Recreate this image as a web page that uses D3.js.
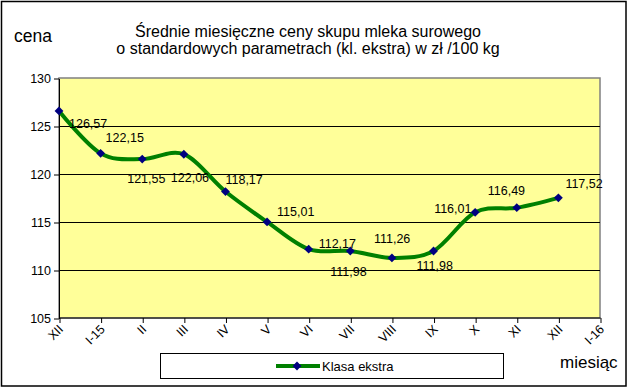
<!DOCTYPE html>
<html>
<head>
<meta charset="utf-8">
<script src="https://cdn.jsdelivr.net/npm/d3@7"></script>
<style>
  body { margin: 0; background: #fff; }
  text { font-family: Arial, "Liberation Sans", sans-serif; }
</style>
</head>
<body>
<div id="chart"></div>
<script>
// months on the x axis, last one has no value
var months = ["XII", "I-15", "II", "III", "IV", "V", "VI", "VII", "VIII", "IX", "X", "XI", "XII", "I-16"];
var prices = [126.57, 122.15, 121.55, 122.06, 118.17, 115.01, 112.17, 111.98, 111.26, 111.98, 116.01, 116.49, 117.52];
var yTicks = [105, 110, 115, 120, 125, 130];
var seriesName = "Klasa ekstra";

// label offsets relative to the point (Excel placed them by hand)
var labelOffsets = [
  [10, 17], [5, -11], [-15, 24], [-13, 28], [0, -8], [10, -6],
  [10, -1], [-20, 25], [-18, -15], [-17, 19], [-41, 1], [-29, -13], [7, -10]
];

var W = 628, H = 388;
var plot = { left: 59, right: 600, top: 78, bottom: 318 };

var svg = d3.select("#chart").append("svg")
  .attr("width", W).attr("height", H);

svg.append("rect")
  .attr("x", 1.5).attr("y", 1.5)
  .attr("width", W - 3.5).attr("height", H - 3.5)
  .attr("fill", "#fff").attr("stroke", "#000").attr("stroke-width", 1.5);

var x = d3.scalePoint().domain(d3.range(months.length))
  .range([plot.left, plot.right]);
var y = d3.scaleLinear().domain([105, 130]).range([plot.bottom, plot.top]);

// plot background
svg.append("rect")
  .attr("x", plot.left).attr("y", plot.top)
  .attr("width", plot.right - plot.left).attr("height", plot.bottom - plot.top)
  .attr("fill", "#FFFF99").attr("stroke", "#808080").attr("stroke-width", 1.5);

// gridlines
svg.append("g").selectAll("line")
  .data(yTicks.filter(function(d){ return d > 105 && d < 130; }))
  .enter().append("line")
  .attr("x1", plot.left).attr("x2", plot.right)
  .attr("y1", function(d){ return y(d) + 0.5; })
  .attr("y2", function(d){ return y(d) + 0.5; })
  .attr("stroke", "#000").attr("stroke-width", 1);

// y axis
var yAxis = d3.axisLeft(y).tickValues(yTicks).tickSize(5).tickSizeOuter(0)
  .tickFormat(d3.format("d"));
var gy = svg.append("g")
  .attr("transform", "translate(" + plot.left + ",0.5)")
  .call(yAxis);
gy.selectAll("text").attr("font-size", 12.5).attr("fill", "#000")
  .attr("font-family", "Arial, 'Liberation Sans', sans-serif").attr("x", -8);
gy.selectAll("line, path").attr("stroke", "#000");

// x axis
var xAxis = d3.axisBottom(x).tickSize(5).tickSizeOuter(0)
  .tickFormat(function(i){ return months[i]; });
var gx = svg.append("g")
  .attr("transform", "translate(0.5," + plot.bottom + ")")
  .call(xAxis);
gx.select(".domain").attr("d", "M" + plot.left + ",0H" + plot.right);
gx.selectAll("line, path").attr("stroke", "#000");
gx.selectAll("text")
  .attr("font-size", 12.5).attr("fill", "#000")
  .attr("font-family", "Arial, 'Liberation Sans', sans-serif")
  .attr("text-anchor", "end")
  .attr("y", 0).attr("dy", 0)
  .attr("transform", "translate(4,12) rotate(-45)");

// the smoothed line
var line = d3.line()
  .x(function(d, i){ return x(i); })
  .y(function(d){ return y(d); })
  .curve(d3.curveCardinal.tension(0));

svg.append("path")
  .datum(prices)
  .attr("d", line)
  .attr("fill", "none")
  .attr("stroke", "#008000")
  .attr("stroke-width", 4);

var diamond = d3.symbol().type(d3.symbolDiamond2).size(50);

svg.append("g").selectAll("path")
  .data(prices).enter().append("path")
  .attr("d", diamond)
  .attr("transform", function(d, i){ return "translate(" + x(i) + "," + y(d) + ")"; })
  .attr("fill", "#000080");

// value labels
svg.append("g").selectAll("text")
  .data(prices).enter().append("text")
  .attr("x", function(d, i){ return x(i) + labelOffsets[i][0]; })
  .attr("y", function(d, i){ return y(d) + labelOffsets[i][1]; })
  .attr("font-size", 12.5)
  .text(function(d){ return d.toFixed(2).replace(".", ","); });

// titles
svg.append("text").attr("x", 308).attr("y", 37)
  .attr("text-anchor", "middle").attr("font-size", 16)
  .text("Średnie miesięczne ceny skupu mleka surowego");
svg.append("text").attr("x", 308).attr("y", 54)
  .attr("text-anchor", "middle").attr("font-size", 16)
  .text("o standardowych parametrach (kl. ekstra) w zł /100 kg");

svg.append("text").attr("x", 14).attr("y", 42)
  .attr("font-size", 17.5).text("cena");
svg.append("text").attr("x", 560).attr("y", 368)
  .attr("font-size", 17).text("miesiąc");

// legend
var lg = svg.append("g");
lg.append("rect")
  .attr("x", 160.5).attr("y", 353.5).attr("width", 343).attr("height", 25)
  .attr("fill", "#fff").attr("stroke", "#000");
lg.append("line")
  .attr("x1", 276).attr("x2", 320).attr("y1", 366).attr("y2", 366)
  .attr("stroke", "#008000").attr("stroke-width", 4);
lg.append("path").attr("d", diamond)
  .attr("transform", "translate(297,366)").attr("fill", "#000080");
lg.append("text").attr("x", 322).attr("y", 370.5)
  .attr("font-size", 13).text(seriesName);
</script>
</body>
</html>
